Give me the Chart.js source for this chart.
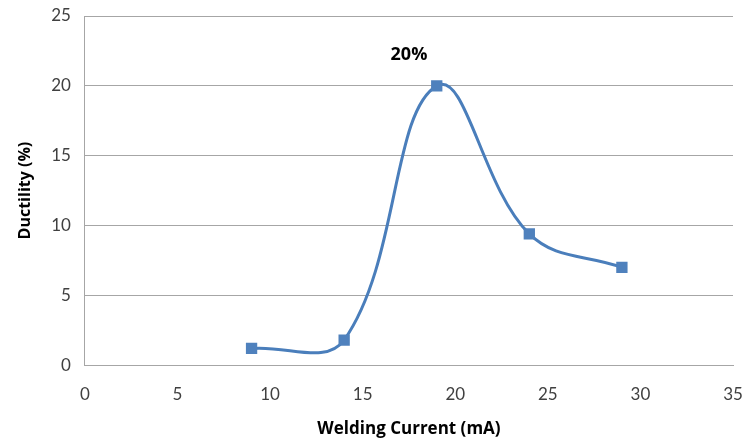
<!DOCTYPE html>
<html>
<head>
<meta charset="utf-8">
<script src="https://cdn.jsdelivr.net/npm/chart.js@4"></script>
<style>
  html, body { margin: 0; padding: 0; background: #fff; }
  #wrap { width: 744px; height: 439px; }
</style>
</head>
<body>
<div id="wrap"><canvas id="chart" width="744" height="439"></canvas></div>
<script>
// data
const currents = [9, 14, 19, 24, 29];
const ductility = [1.2, 1.8, 20, 9.4, 7];
const xTicks = [0, 5, 10, 15, 20, 25, 30, 35];
const yTicks = [0, 5, 10, 15, 20, 25];
const peakLabel = '20%';
const peakLabelPos = [17.5, 22.2];

const tickFont = 'Lato, "Open Sans", sans-serif';
const titleFont = '"Open Sans", Lato, sans-serif';

// draws the peak label at a data position
const peakText = {
    id: 'peakText',
    afterDatasetsDraw(chart) {
        const ctx = chart.ctx;
        const x = chart.scales.x.getPixelForValue(peakLabelPos[0]);
        const y = chart.scales.y.getPixelForValue(peakLabelPos[1]);
        ctx.save();
        ctx.font = 'bold 18px ' + titleFont;
        ctx.fillStyle = '#000';
        ctx.textAlign = 'center';
        ctx.textBaseline = 'middle';
        ctx.fillText(peakLabel, x, y);
        ctx.restore();
    }
};

const ctx = document.getElementById('chart').getContext('2d');
new Chart(ctx, {
    type: 'line',
    data: {
        datasets: [{
            data: currents.map((c, i) => ({ x: c, y: ductility[i] })),
            borderColor: '#4a7ebb',
            borderWidth: 3,
            tension: 0.4,
            pointStyle: 'rect',
            pointRadius: 8,
            pointBackgroundColor: '#4f81bd',
            pointBorderColor: '#4f81bd',
            pointBorderWidth: 0
        }]
    },
    options: {
        responsive: false,
        animation: false,
        layout: { padding: { left: 16, right: 0, top: 0, bottom: 0 } },
        plugins: {
            legend: { display: false },
            tooltip: { enabled: false }
        },
        scales: {
            x: {
                type: 'linear',
                min: xTicks[0],
                max: xTicks[xTicks.length - 1],
                afterBuildTicks: axis => { axis.ticks = xTicks.map(v => ({ value: v })); },
                afterFit: axis => { axis.paddingRight = 11; },
                grid: { display: false, drawTicks: false },
                border: { display: true, color: '#a6a6a6', width: 1 },
                ticks: { color: '#404040', font: { family: tickFont, size: 17 }, padding: 19, maxRotation: 0 },
                title: {
                    display: true,
                    text: 'Welding Current (mA)',
                    color: '#000',
                    font: { family: titleFont, size: 17, weight: 'bold' },
                    padding: { top: -5, bottom: 0 }
                }
            },
            y: {
                min: yTicks[0],
                max: yTicks[yTicks.length - 1],
                afterBuildTicks: axis => { axis.ticks = yTicks.map(v => ({ value: v })); },
                afterFit: axis => { axis.paddingTop = 16; },
                grid: { color: '#a6a6a6', drawTicks: false },
                border: { display: true, color: '#a6a6a6', width: 1 },
                ticks: { color: '#404040', font: { family: tickFont, size: 17 }, padding: 14 },
                title: {
                    display: true,
                    text: 'Ductility (%)',
                    color: '#000',
                    font: { family: titleFont, size: 16, weight: 'bold' },
                    padding: { top: 0, bottom: 2 }
                }
            }
        }
    },
    plugins: [peakText]
});
</script>
</body>
</html>
